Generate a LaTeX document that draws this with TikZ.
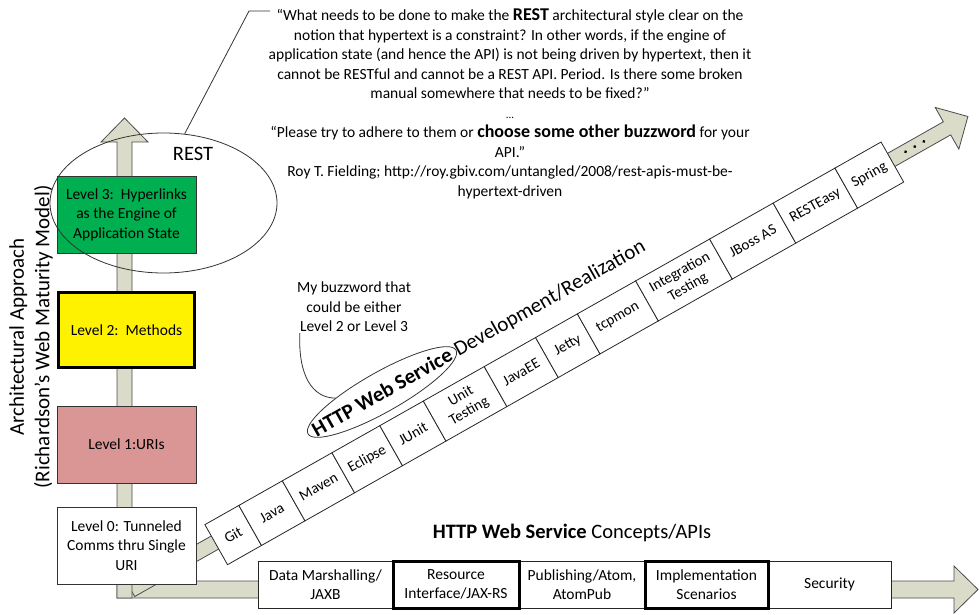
\documentclass[tikz,border=0pt]{standalone}
\usepackage{fontspec}
\setmainfont{Carlito}
\usetikzlibrary{positioning,shapes.geometric}

\definecolor{shaftgray}{RGB}{218,219,200}
\definecolor{lvlgreen}{RGB}{0,176,80}
\definecolor{lvlpink}{RGB}{217,150,148}
\newcommand{\txtsize}{\fontsize{15.5}{19.5}\selectfont}

\begin{document}
\begin{tikzpicture}[
    x=1pt,y=1pt,
    shaft/.style={fill=shaftgray,draw=black!70,line width=0.8pt},
    level/.style={rectangle,draw=black!80,line width=0.8pt,minimum width=139pt,minimum height=77pt,align=center,outer sep=0pt,inner sep=1pt,font=\txtsize},
    tool/.style={rectangle,draw=black!85,fill=white,line width=0.8pt,minimum height=46pt,outer sep=0pt,inner sep=1pt,align=center,font=\fontsize{15}{17}\selectfont},
    concept/.style={rectangle,draw=black!85,fill=white,line width=0.8pt,minimum height=47pt,outer sep=0pt,inner sep=1pt,align=center,font=\txtsize},
    heavy/.style={draw=black,line width=3pt},
    thinline/.style={draw=black!80,line width=0.8pt},
  ]
  \useasboundingbox (0,0) rectangle (979,614);

  % axes
  \draw[shaft] (117,33) -- (954,33) -- (954,48) -- (978,24.5) -- (954,1) -- (954,16) -- (117,16) -- cycle;
  \begin{scope}[shift={(131,24)},rotate=29.5]
    \draw[shaft] (0,-7.5) -- (937.6,-7.5) -- (937.6,-24) -- (961.6,0) -- (937.6,24) -- (937.6,7.5) -- (0,7.5) -- cycle;
    \foreach \d in {890,900.5,911} \fill (\d,0) circle (1.6);
  \end{scope}
  \draw[shaft] (117,16) -- (117,472) -- (101,472) -- (124.5,496) -- (148,472) -- (132,472) -- (132,16) -- cycle;

  % maturity levels
  \node[level,fill=lvlgreen] (l3) at (126.5,399.5) {Level 3:\ \ Hyperlinks\\as the Engine of\\Application State};
  \node[level,fill=yellow,draw=black,line width=3pt,minimum width=136pt,minimum height=75pt,below=39.5pt of l3] (l2) {Level 2:\ \ Methods};
  \node[level,fill=lvlpink,below=38.5pt of l2] (l1) {Level 1:URIs};
  \node[level,fill=white,below=24pt of l1] (l0) {Level 0: Tunneled\\Comms thru Single\\URI};

  \node[rotate=90,align=center,font=\fontsize{21}{25.5}\selectfont] (axislbl) at (31,277) {Architectural Approach\\(Richardson’s Web Maturity Model)};

  \node[ellipse,thinline,minimum width=227pt,minimum height=140pt] (rest) at (163.5,411) {};
  \node[font=\fontsize{20.5}{24}\selectfont] (restlbl) at (193,460) {REST};

  % quote
  \node[align=center,font=\txtsize,inner sep=0pt] (quote) at (510,510) {“What needs to be done to make the {\fontsize{18}{19.5}\selectfont\bfseries REST} architectural style clear on the\\
    notion that hypertext is a constraint? In other words, if the engine of\\
    application state (and hence the API) is not being driven by hypertext, then it\\
    cannot be RESTful and cannot be a REST API. Period. Is there some broken\\
    manual somewhere that needs to be fixed?”\\
    {\fontsize{11}{19.5}\selectfont ...}\\
    “Please try to adhere to them or {\fontsize{18}{19.5}\selectfont\bfseries choose some other buzzword} for your\\
    API.”\\
    Roy T. Fielding; http://roy.gbiv.com/untangled/2008/rest-apis-must-be-\\
    hypertext-driven};
  \coordinate (bend) at (249,603);
  \coordinate (qend) at (270,603);
  \draw[thinline] (rest.73) -- (bend) -- (qend);

  % development band
  \begin{scope}[shift={(131,24)},rotate=29.5,transform shape]
    \node[tool,minimum width=39pt,anchor=west] (git) at (96.5,-2.5) {Git};
    \node[tool,minimum width=50pt,right=0pt of git] (java) {Java};
    \node[tool,minimum width=57pt,right=0pt of java] (maven) {Maven};
    \node[tool,minimum width=55pt,right=0pt of maven] (eclipse) {Eclipse};
    \node[tool,minimum width=50pt,right=0pt of eclipse] (junit) {JUnit};
    \node[tool,minimum width=70pt,right=0pt of junit] (unittest) {Unit\\Testing};
    \node[tool,minimum width=59pt,right=0pt of unittest] (javaee) {JavaEE};
    \node[tool,minimum width=48pt,right=0pt of javaee] (jetty) {Jetty};
    \node[tool,minimum width=67pt,right=0pt of jetty] (tcpmon) {tcpmon};
    \node[tool,minimum width=85pt,right=0pt of tcpmon] (inttest) {Integration\\Testing};
    \node[tool,minimum width=73pt,right=0pt of inttest] (jboss) {JBoss AS};
    \node[tool,minimum width=71pt,right=0pt of jboss] (resteasy) {RESTEasy};
    \node[tool,minimum width=53pt,right=0pt of resteasy] (spring) {Spring};
  \end{scope}

  \begin{scope}[shift={(382,222)},rotate=29.5,transform shape]
    \node[ellipse,thinline,minimum width=170pt,minimum height=40pt] (svc) at (0,0) {};
    \node[inner sep=0pt,font=\bfseries\fontsize{21}{24}\selectfont] (svclbl) at (0,0) {HTTP Web Service};
    \node[anchor=base west,inner sep=0pt,font=\fontsize{21}{24}\selectfont] (devlbl) at ([xshift=5pt]svclbl.base east) {Development/Realization};
  \end{scope}

  \node[align=center,font=\txtsize,inner sep=1pt] (buzz) at (354,307) {My buzzword that\\could be either\\Level 2 or Level 3};
  \draw[thinline] ([xshift=4pt]buzz.south west) .. controls (298,239) and (312,216) .. (svc.158);

  % concepts
  \node[font=\fontsize{20.5}{24}\selectfont] (conclbl) at (572,81) {{\bfseries HTTP Web Service} Concepts/APIs};
  \node[concept,minimum width=135pt,anchor=west] (marsh) at (258,29.5) {Data Marshalling/\\JAXB};
  \node[concept,minimum width=126pt,right=0pt of marsh] (resif) {Resource\\Interface/JAX-RS};
  \node[concept,minimum width=126pt,right=0pt of resif] (publ) {Publishing/Atom,\\AtomPub};
  \node[concept,minimum width=123pt,right=0pt of publ] (impl) {Implementation\\Scenarios};
  \node[concept,minimum width=123pt,right=0pt of impl] (secu) {Security};
  \draw[heavy] (resif.south west) rectangle (resif.north east);
  \draw[heavy] (impl.south west) rectangle (impl.north east);
\end{tikzpicture}
\end{document}
